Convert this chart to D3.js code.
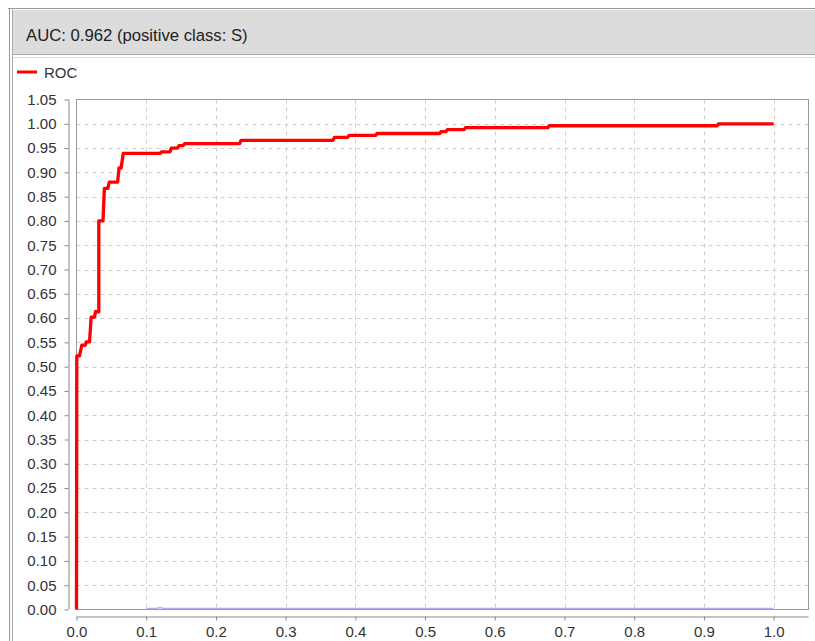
<!DOCTYPE html>
<html><head><meta charset="utf-8">
<script src="https://cdn.jsdelivr.net/npm/d3@7/dist/d3.min.js"></script>
<style>body{margin:0;background:#fff;} svg{display:block;}</style>
</head><body>
<svg id="c" width="815" height="641"></svg>
<script>
const titleText = "AUC: 0.962 (positive class: S)";
const seriesName = "ROC";
const rocFpr = [0,0.0004,0.0043,0.0076,0.0125,0.014,0.0187,0.021,0.026,0.027,0.031,0.032,0.032,0.038,0.040,0.045,0.047,0.059,0.061,0.064,0.067,0.120,0.122,0.134,0.136,0.145,0.147,0.153,0.155,0.234,0.236,0.368,0.370,0.389,0.391,0.429,0.431,0.521,0.523,0.530,0.532,0.556,0.558,0.676,0.678,0.919,0.921,1.0];
const rocTpr = [0,0.522,0.522,0.544,0.544,0.551,0.551,0.602,0.602,0.613,0.613,0.613,0.800,0.800,0.867,0.867,0.880,0.880,0.909,0.909,0.939,0.939,0.942,0.942,0.950,0.950,0.955,0.955,0.959,0.959,0.966,0.966,0.972,0.972,0.976,0.976,0.980,0.980,0.984,0.984,0.988,0.988,0.992,0.992,0.996,0.996,1.0,1.0];
const baseFpr = [0.1,0.115,0.12,0.125,1.0];
const baseTpr = [0.002,0.002,0.004,0.002,0.002];
const xTicks = [0,0.1,0.2,0.3,0.4,0.5,0.6,0.7,0.8,0.9,1.0];
const yTicks = [0,0.05,0.1,0.15,0.2,0.25,0.3,0.35,0.4,0.45,0.5,0.55,0.6,0.65,0.7,0.75,0.8,0.85,0.9,0.95,1.0,1.05];

const svg = d3.select("#c");
const FONT = "'Liberation Sans', Arial, sans-serif";
const txt = "#333";

// panel frame
svg.append("line").attr("x1",8).attr("x2",815).attr("y1",8.5).attr("y2",8.5).attr("stroke","#999");
svg.append("line").attr("x1",9.5).attr("x2",9.5).attr("y1",8).attr("y2",641).attr("stroke","#999");
svg.append("line").attr("x1",12.5).attr("x2",12.5).attr("y1",8).attr("y2",641).attr("stroke","#aaa");
// title bar
svg.append("rect").attr("x",13).attr("y",10).attr("width",802).attr("height",44).attr("fill","#dcdcdc");
svg.append("line").attr("x1",13).attr("x2",815).attr("y1",54.5).attr("y2",54.5).attr("stroke","#aaa");
svg.append("line").attr("x1",13).attr("x2",815).attr("y1",57.5).attr("y2",57.5).attr("stroke","#ddd");
svg.append("text").attr("x",26).attr("y",41).attr("font-family",FONT).attr("font-size",16.7)
  .attr("fill","#222").text(titleText);

// legend
svg.append("line").attr("x1",17).attr("x2",37).attr("y1",72).attr("y2",72).attr("stroke","#ff0000").attr("stroke-width",3);
svg.append("text").attr("x",44).attr("y",77.5).attr("font-family",FONT).attr("font-size",15).attr("fill",txt).text(seriesName);

// scales
const x = d3.scaleLinear().domain([0,1.05]).range([76.5,808.5]);
const y = d3.scaleLinear().domain([0,1.05]).range([609.5,99.5]);

// grid
const g = svg.append("g");
g.selectAll(".gx").data(xTicks.slice(1)).enter().append("line")
  .attr("x1",d=>Math.round(x(d))+0.5).attr("x2",d=>Math.round(x(d))+0.5).attr("y1",99.5).attr("y2",609.5)
  .attr("stroke","#cfcfcf").attr("stroke-dasharray","4,4");
g.selectAll(".gy").data(yTicks.slice(1,-1)).enter().append("line")
  .attr("y1",d=>Math.round(y(d))+0.5).attr("y2",d=>Math.round(y(d))+0.5).attr("x1",76.5).attr("x2",808.5)
  .attr("stroke","#cfcfcf").attr("stroke-dasharray","4,4");
// plot frame
svg.append("rect").attr("x",76.5).attr("y",99.5).attr("width",732).attr("height",510)
  .attr("fill","none").attr("stroke","#999");

// axes
const yAxis = d3.axisLeft(y).tickValues(yTicks).tickFormat(d3.format(".2f")).tickSize(4).tickPadding(8);
const ya = svg.append("g").attr("transform","translate(68.5,0)").call(yAxis);
const xAxis = d3.axisBottom(x).tickValues(xTicks).tickFormat(d3.format(".1f")).tickSize(4).tickPadding(6);
const xa = svg.append("g").attr("transform","translate(0,616.5)").call(xAxis);
[ya,xa].forEach(a=>{
  a.select(".domain").attr("stroke","#888");
  a.selectAll(".tick line").attr("stroke","#888");
  a.selectAll("text").attr("font-family",FONT).attr("font-size",15).attr("fill",txt);
});
xa.select(".domain").attr("d","M76.5,0.5H808.5");
ya.select(".domain").attr("d","M0.5,99.5V609.5");

// baseline series (faint)
const base = baseFpr.map((f,i)=>[f,baseTpr[i]]);
svg.append("path").datum(base).attr("d",d3.line().x(d=>x(d[0])).y(d=>y(d[1])))
  .attr("fill","none").attr("stroke","#b0b0f0").attr("stroke-width",1.5);

// ROC curve
const roc = rocFpr.map((f,i)=>[f,rocTpr[i]]);
svg.append("path").datum(roc).attr("d",d3.line().x(d=>x(d[0])).y(d=>y(d[1])))
  .attr("fill","none").attr("stroke","#ff0000").attr("stroke-width",3.3).attr("stroke-linejoin","round");
</script>
</body></html>
